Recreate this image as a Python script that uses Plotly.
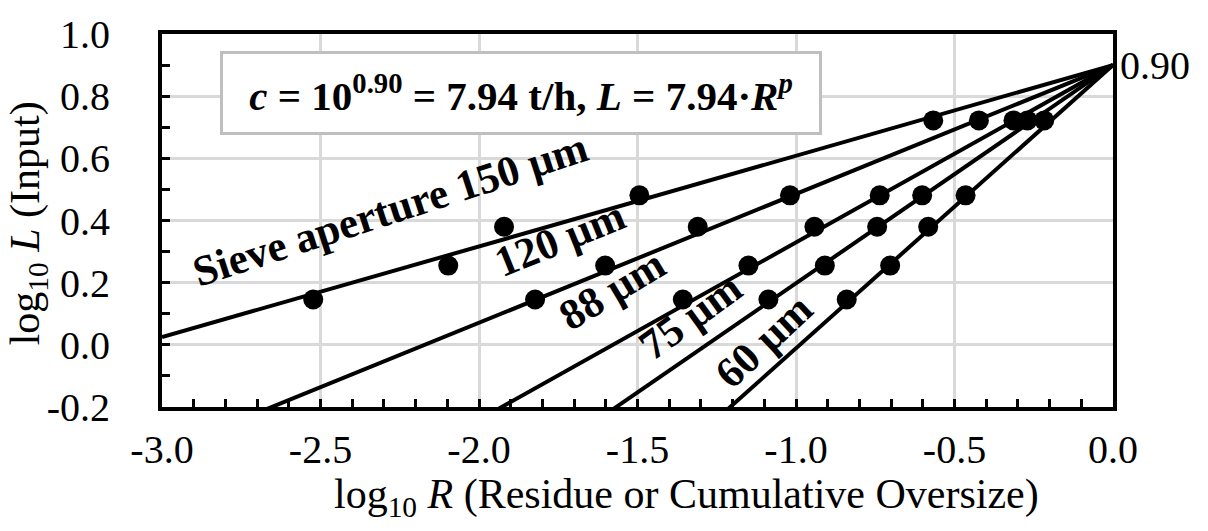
import plotly.graph_objects as go

# ---------------- data ----------------
log_L = [0.146, 0.255, 0.380, 0.481, 0.722]          # log10 L (Input), same levels for each sieve
sieve_names = ["150 µm", "120 µm", "88 µm", "75 µm", "60 µm"]
log_R_150 = [-2.523, -2.097, -1.921, -1.494, -0.567]
log_R_120 = [-1.823, -1.602, -1.310, -1.019, -0.423]
log_R_88 = [-1.357, -1.150, -0.942, -0.736, -0.314]
log_R_75 = [-1.087, -0.909, -0.744, -0.602, -0.270]
log_R_60 = [-0.840, -0.703, -0.583, -0.465, -0.217]
slopes_p = [0.2917, 0.4145, 0.5705, 0.702, 0.911]     # fitted exponent p for each sieve
intercept = 0.90
line_x_range = [-3.0, 0.0]

x_tickvals = [-3.0, -2.5, -2.0, -1.5, -1.0, -0.5, 0.0]
x_ticktext = ["-3.0", "-2.5", "-2.0", "-1.5", "-1.0", "-0.5", "0.0"]
y_tickvals = [-0.2, 0.0, 0.2, 0.4, 0.6, 0.8, 1.0]
y_ticktext = ["-0.2", "0.0", "0.2", "0.4", "0.6", "0.8", "1.0"]

series_R = [log_R_150, log_R_120, log_R_88, log_R_75, log_R_60]
label_texts = ["Sieve aperture 150 µm", "120 µm", "88 µm", "75 µm", "60 µm"]

# ---------------- styles ----------------
FONT = "Times New Roman, Liberation Serif, serif"
label_pos = [(-2.281, 0.437, -18), (-1.744, 0.341, -22), (-1.580, 0.177, -31),
             (-1.334, 0.092, -36), (-1.101, 0.015, -43)]

fig = go.Figure()
for name, xs, p in zip(sieve_names, series_R, slopes_p):
    lx = line_x_range
    ly = [intercept + p * v for v in lx]
    fig.add_trace(go.Scatter(x=lx, y=ly, mode="lines", line=dict(color="black", width=4),
                             showlegend=False, hoverinfo="skip"))
    fig.add_trace(go.Scatter(x=xs, y=log_L, mode="markers", name=name,
                             marker=dict(color="black", size=20), showlegend=False))

annotations = []
for txt, (ax, ay, ang) in zip(label_texts, label_pos):
    annotations.append(dict(x=ax, y=ay, xref="x", yref="y", text="<b>" + txt + "</b>",
                            showarrow=False, textangle=ang, xanchor="center", yanchor="middle",
                            font=dict(family=FONT, size=43, color="black")))

annotations.append(dict(
    x=-1.867, y=0.811, xref="x", yref="y", showarrow=False,
    text="<b><i>c</i> = 10<sup>0.90</sup> = 7.94 t/h, <i>L</i> = 7.94·<i>R<sup>p</sup></i></b>",
    font=dict(family=FONT, size=41, color="black"),
    bgcolor="white", bordercolor="#bfbfbf", borderwidth=3, borderpad=0,
    width=596, height=78, align="center", valign="middle"))

annotations.append(dict(x=1.0, y=intercept, xref="paper", yref="y", text="0.90",
                        showarrow=False, xanchor="left", yanchor="middle", xshift=5,
                        font=dict(family=FONT, size=40, color="black")))

annotations.append(dict(x=0.552, y=-0.242, xref="paper", yref="paper",
                        text="log<sub>10</sub> <i>R</i> (Residue or Cumulative Oversize)",
                        showarrow=False, xanchor="center", yanchor="middle",
                        font=dict(family=FONT, size=42, color="black")))
annotations.append(dict(x=-0.14, y=0.492, xref="paper", yref="paper",
                        text="log<sub>10</sub> <i>L</i> (Input)", textangle=-90,
                        showarrow=False, xanchor="center", yanchor="middle",
                        font=dict(family=FONT, size=42, color="black")))

axis_common = dict(showline=True, linecolor="black", linewidth=4, mirror=True,
                   showgrid=True, gridcolor="#d9d9d9", gridwidth=3,
                   ticks="inside", ticklen=8, tickwidth=3, tickcolor="black",
                   zeroline=False, tickfont=dict(family=FONT, size=40, color="black"))

fig.update_layout(
    width=1208, height=531,
    margin=dict(l=162, r=95, t=23, b=124),
    paper_bgcolor="white", plot_bgcolor="white",
    xaxis=dict(range=[-3.0, 0.0], tickvals=x_tickvals, ticktext=x_ticktext,
               minor=dict(dtick=0.1, tick0=0, ticks="inside", ticklen=8, tickwidth=3,
                          tickcolor="black", showgrid=False),
               ticklabelstandoff=4, **axis_common),
    yaxis=dict(range=[-0.2, 1.0], tickvals=y_tickvals, ticktext=y_ticktext,
               minor=dict(dtick=0.1, tick0=0, ticks="inside", ticklen=8, tickwidth=3,
                          tickcolor="black", showgrid=False),
               ticklabelstandoff=40, **axis_common),
    annotations=annotations,
    font=dict(family=FONT, color="black"),
)

fig.write_html("out.html", config={"displayModeBar": False},
               post_script="document.body.style.margin='0';document.body.style.overflow='hidden';")
